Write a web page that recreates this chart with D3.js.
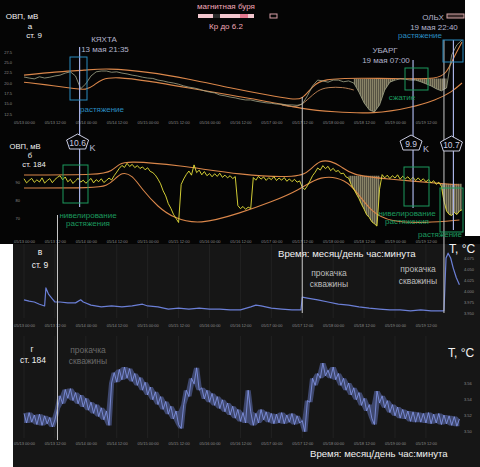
<!DOCTYPE html>
<html>
<head>
<meta charset="utf-8">
<script src="https://cdn.jsdelivr.net/npm/d3@7/dist/d3.min.js"></script>
<style>
  body { margin: 0; background: #000; }
  svg { display: block; font-family: "Liberation Sans", Arial, sans-serif; }
</style>
</head>
<body>
<svg id="chart" width="480" height="467"></svg>
<script>
// all hours are counted from 13 May 00:00
var t0 = new Date(2020, 4, 13, 0, 0);
function at(h) { return new Date(t0.getTime() + h * 3600000); }
var parseT = d3.timeParse("%Y-%m-%d %H:%M");

// --- а : ст. 9, ОВП (мВ), every 2 h
var ovpA = [21.45,21.2,21.0,21.5,21.2,21.4,21.7,21.9,22.4,22.7,21.7,18.6,19.8,21.7,22.7,22.9,22.9,22.6,22.7,22.4,
  22.2,21.9,21.7,21.4,21.2,21.1,20.7,20.5,20.2,20.0,19.7,19.3,19.0,18.8,18.5,18.1,17.8,17.6,17.1,16.9,
  16.6,16.4,16.1,15.9,15.9,15.6,15.4,15.2,15.1,14.9,14.9,14.7,14.7,14.6,14.9,16.9,19.3,20.7,20.5,20.2,
  20.7,20.7,20.3,20.5,20.0,17.8,15.2,13.5,13.0,14.7,18.3,20.2,20.7,21.0,20.9,20.7,20.7,20.3,19.8,19.3,
  18.6,18.1,18.8,26.8,29.2,30.4];
var hoursA = d3.range(0, 172, 2);
var upperA_h = [0,12,24,32,48,64,80,96,104,108,112,116,130,150,160,164,167,170];
var upperA = [21.9,22.7,23.1,23.6,22.7,21.0,18.8,16.9,16.1,15.9,19.3,21.0,21.2,21.0,21.0,22.2,26.5,29.9];
var lowerA_h = [0,12,20,24,27,30,36,48,64,80,96,108,120,136,150,160,166,170];
var lowerA = [20.2,19.3,18.6,18.3,19.3,21.0,21.5,20.5,18.8,17.1,15.4,13.7,13.0,12.5,14.0,15.9,17.8,20.0];
var midA_h = [100,106,110,114,118,124,128];
var midA = [14.7,13.9,15.9,18.3,19.0,19.0,18.3];
var fillA_from = [127, 149], fillA_to = [144, 164], fillA_top = [21.0, 21.1];
var ticksA = [27.5, 25.0, 22.5, 20.0, 17.5, 15.0, 12.5];

// --- б : ст. 184, ОВП (мВ), hourly
var ovpB = [91.8,89.5,90.9,92.0,89.8,91.2,90.0,92.3,89.4,90.8,
  91.9,89.6,91.4,92.6,93.5,91.2,92.8,90.1,91.5,89.2,
  90.7,92.1,89.9,91.0,89.3,90.6,92.0,89.5,91.3,90.2,
  91.8,89.7,90.9,92.2,91.1,93.5,95.5,97.6,99.2,98.1,
  100.4,98.6,99.8,98.0,99.1,97.5,98.4,96.8,97.9,95.9,
  95.2,93.8,91.6,89.0,85.1,82.3,78.0,75.4,72.1,69.8,
  67.5,88.6,91.7,94.2,96.1,93.8,99.5,95.2,96.6,94.0,
  95.8,93.5,94.7,92.9,94.6,93.1,94.9,92.6,93.8,92.3,
  93.5,91.9,93.0,76.9,75.2,76.4,74.8,76.0,75.3,92.5,
  91.0,93.1,91.6,92.8,90.9,92.4,91.3,93.0,90.8,92.2,
  91.0,92.5,90.4,91.7,90.2,91.5,89.9,90.6,87.1,85.8,
  87.9,90.6,93.5,95.4,97.8,96.6,99.1,97.4,98.7,96.3,
  97.6,95.8,96.4,94.6,94.9,92.8,92.2,88.5,86.1,83.4,
  80.8,77.6,74.9,71.8,70.3,67.9,66.8,65.5,86.0,94.1,
  92.3,93.8,91.9,93.5,92.2,94.0,91.6,93.2,91.8,92.9,
  91.2,92.6,90.8,92.3,90.6,91.8,90.1,91.4,89.5,90.7,
  88.7,89.9,87.6,79.4,73.9,72.0,71.4,73.1,71.9,73.8,
  74.6];
var hoursB = d3.range(0, ovpB.length);
var upperB_h = [0,30,34,37,40,60,84,107,111,115,119,123,127,140,169];
var upperB = [93.9,93.9,96.1,100.0,101.7,99.4,93.9,92.2,96.7,102.2,101.7,98.9,93.9,91.7,88.3];
var lowerB_h = [0,28,32,35,38,42,46,52,58,68,84,96,107,115,125,130,135,142,156,169];
var lowerB = [86.7,86.7,87.8,91.1,95.6,93.9,85.6,76.1,70.0,66.1,72.8,78.9,85.6,93.9,91.7,82.8,73.3,67.8,67.2,68.9];
var fillB_from = [126, 160], fillB_to = [138, 170], fillB_top = [93.5, 89.0];
var ticksB = [90, 80, 70];

// --- в : ст. 9, T (°C)
var hoursC = [0,2,4,6,8,8.5,9.5,11,12,14,17,20,22,23,26,30,34,38,42,46,48,52,56,60,64,68,72,76,80,84,
  88,90,92,96,100,104,107.5,108,110,114,118,122,126,130,134,138,142,146,150,154,158,162,163,163.8,164.6,
  165.6,166.6,167.8,169];
var tempC = [3.980,3.977,3.975,3.970,3.966,4.007,3.993,3.982,3.975,3.975,3.973,3.973,3.980,3.975,3.968,
  3.964,3.966,3.964,3.966,3.970,3.966,3.964,3.959,3.961,3.959,3.961,3.959,3.959,3.957,3.957,
  3.964,3.968,3.966,3.961,3.959,3.957,3.957,3.986,3.984,3.980,3.975,3.970,3.968,3.964,3.961,
  3.959,3.957,3.957,3.955,3.957,3.955,3.955,3.955,4.075,4.086,4.075,4.052,4.030,4.014];
var ticksC = [4.075, 4.050, 4.025, 4.000, 3.975, 3.950];

// --- г : ст. 184, T (°C), hourly
var tempD = [3.522,3.510,3.523,3.511,3.520,3.508,3.521,3.507,3.519,3.509,
  3.517,3.505,3.514,3.528,3.544,3.534,3.552,3.541,3.553,3.538,
  3.548,3.534,3.545,3.530,3.541,3.526,3.536,3.522,3.533,3.518,
  3.529,3.514,3.525,3.507,3.560,3.573,3.561,3.577,3.564,3.580,
  3.566,3.578,3.562,3.572,3.557,3.567,3.551,3.561,3.545,3.555,
  3.539,3.549,3.533,3.543,3.527,3.537,3.521,3.531,3.515,3.525,
  3.508,3.503,3.533,3.551,3.543,3.566,3.559,3.579,3.551,3.554,
  3.540,3.551,3.536,3.547,3.532,3.543,3.528,3.539,3.524,3.535,
  3.520,3.531,3.516,3.527,3.512,3.523,3.510,3.551,3.524,3.507,
  3.522,3.510,3.527,3.514,3.524,3.511,3.522,3.509,3.521,3.510,
  3.523,3.509,3.520,3.511,3.522,3.508,3.519,3.510,3.513,3.499,
  3.538,3.536,3.566,3.557,3.572,3.566,3.585,3.569,3.576,3.566,
  3.580,3.564,3.572,3.557,3.566,3.551,3.560,3.545,3.554,3.539,
  3.548,3.532,3.541,3.525,3.533,3.516,3.508,3.550,3.535,3.544,
  3.529,3.538,3.523,3.533,3.519,3.530,3.516,3.527,3.515,3.525,
  3.512,3.524,3.511,3.523,3.511,3.522,3.510,3.523,3.509,3.521,
  3.510,3.522,3.508,3.520,3.509,3.519,3.507,3.518,3.506,3.515];
var hoursD = d3.range(0, tempD.length);
var ticksD = [3.56, 3.54, 3.52, 3.50];

// events
var quakeNames = ["КЯХТА", "УБАРГ", "ОЛЬХ"];
var quakeTimes = ["2020-05-13 21:35", "2020-05-19 07:00", "2020-05-19 22:40"];
var quakeDates = ["13 мая 21:35", "19 мая 07:00", "19 мая 22:40"];
var quakeK = ["10.6", "9.9", "10.7"];
var pumpTimes = ["2020-05-13 13:00", "2020-05-17 12:00", "2020-05-19 19:00"];

var svg = d3.select("#chart");
var x = d3.scaleTime().domain([t0, at(170)]).range([24, 462]);
var yA = d3.scaleLinear().domain([12.5, 27.5]).range([114, 52]);
var yB = d3.scaleLinear().domain([70, 100]).range([218, 164]);
var yC = d3.scaleLinear().domain([3.95, 4.075]).range([313, 258]);
var yD = d3.scaleLinear().domain([3.50, 3.56]).range([431, 383]);
var tickTimes = d3.timeHour.every(12).range(t0, at(157));
var fmt = d3.timeFormat("%m/%d %H:%M");

// backgrounds
svg.append("rect").attr("width", 480).attr("height", 467).attr("fill", "#050505");
svg.append("rect").attr("x", 13).attr("y", 244).attr("width", 467).attr("height", 223).attr("fill", "#161616");

// grid of lower panels
[[244, 318], [336, 438]].forEach(function(r) {
  svg.append("g").selectAll("line").data(tickTimes).enter().append("line")
    .attr("x1", function(d) { return x(d); }).attr("x2", function(d) { return x(d); })
    .attr("y1", r[0]).attr("y2", r[1])
    .attr("stroke", "#2a2a2a").attr("stroke-width", 0.6);
});

function xAxis(yPos) {
  var g = svg.append("g").attr("transform", "translate(0," + yPos + ")")
    .call(d3.axisBottom(x).tickValues(tickTimes).tickFormat(fmt).tickSize(0).tickPadding(2));
  g.select(".domain").remove();
  g.selectAll("text").attr("fill", "#8c8c8c").attr("font-size", 4).attr("font-family", "Liberation Sans, Arial");
}
function yAxis(scale, ticks, f, xPos, right) {
  var ax = right ? d3.axisRight(scale) : d3.axisLeft(scale);
  var g = svg.append("g").attr("transform", "translate(" + xPos + ",0)")
    .call(ax.tickValues(ticks).tickFormat(d3.format(f)).tickSize(0).tickPadding(1));
  g.select(".domain").remove();
  g.selectAll("text").attr("fill", "#8c8c8c").attr("font-size", 4).attr("font-family", "Liberation Sans, Arial");
}
xAxis(119); xAxis(238); xAxis(322); xAxis(440);
yAxis(yA, ticksA, ".1f", 13, false);
yAxis(yB, ticksB, "d", 21, false);
yAxis(yC, ticksC, ".3f", 463, true);
yAxis(yD, ticksD, ".2f", 463, true);

// hatched fill
var defs = svg.append("defs");
var pat = defs.append("pattern").attr("id", "hatch").attr("patternUnits", "userSpaceOnUse")
  .attr("width", 2).attr("height", 4);
pat.append("rect").attr("width", 2).attr("height", 4).attr("fill", "#5a5646");
pat.append("rect").attr("width", 1).attr("height", 4).attr("fill", "#8f8a6c");

function fills(hours, vals, y, from, to, top) {
  from.forEach(function(f, k) {
    var pts = [];
    hours.forEach(function(h, i) { if (h >= f && h <= to[k]) pts.push({ h: h, v: vals[i] }); });
    svg.append("path").datum(pts)
      .attr("d", d3.area().x(function(d) { return x(at(d.h)); })
        .y0(y(top[k])).y1(function(d) { return y(d.v); }))
      .attr("fill", "url(#hatch)").attr("opacity", 0.95);
  });
}
fills(hoursA, ovpA, yA, fillA_from, fillA_to, fillA_top);
fills(hoursB, ovpB, yB, fillB_from, fillB_to, fillB_top);

function series(hours, vals, y, color, w, curve) {
  var pts = hours.map(function(h, i) { return [x(at(h)), y(vals[i])]; });
  svg.append("path").attr("d", d3.line().curve(curve || d3.curveLinear)(pts))
    .attr("fill", "none").attr("stroke", color).attr("stroke-width", w).attr("stroke-linejoin", "round");
}
// band under a noisy record: spread of each sample and its neighbours
function band(hours, vals, y, color, op) {
  var pts = hours.map(function(h, i) {
    var nb = vals.slice(Math.max(0, i - 1), i + 2);
    return { h: h, lo: d3.min(nb), hi: d3.max(nb) };
  });
  svg.append("path").datum(pts)
    .attr("d", d3.area().x(function(d) { return x(at(d.h)); })
      .y0(function(d) { return y(d.lo); }).y1(function(d) { return y(d.hi); }))
    .attr("fill", color).attr("opacity", op);
}
// envelopes
series(upperA_h, upperA, yA, "#d9864a", 1.1, d3.curveBasis);
series(lowerA_h, lowerA, yA, "#d9864a", 1.1, d3.curveBasis);
series(midA_h, midA, yA, "#c98a5a", 0.9, d3.curveBasis);
series(upperB_h, upperB, yB, "#d9864a", 1.1, d3.curveBasis);
series(lowerB_h, lowerB, yB, "#d9864a", 1.1, d3.curveBasis);
// measured
series(hoursA, ovpA, yA, "#a3a78a", 0.8);
series(hoursB, ovpB, yB, "#e8e23a", 0.9);
series(hoursC, tempC, yC, "#6b7fd6", 1.2);
band(hoursD, tempD, yD, "#6f83d6", 0.45);
series(hoursD, tempD, yD, "#8598ea", 0.8);

// pump lines (прокачка скважины)
var pumpSpan = [[215, 440], [97, 313], [40, 313]];
pumpTimes.forEach(function(t, i) {
  var px = x(parseT(t));
  svg.append("line").attr("x1", px).attr("x2", px).attr("y1", pumpSpan[i][0]).attr("y2", pumpSpan[i][1])
    .attr("stroke", "#c8c8c8").attr("stroke-width", 1);
});
// earthquake lines
var quakeSpan = [[47, 207], [60, 208], [40, 230]];
quakeTimes.forEach(function(t, i) {
  var px = x(parseT(t));
  svg.append("line").attr("x1", px).attr("x2", px).attr("y1", quakeSpan[i][0]).attr("y2", quakeSpan[i][1])
    .attr("stroke", "#a9b3e6").attr("stroke-width", 1.2);
});

// boxes
function box(x0, y0, w, h, c) {
  svg.append("rect").attr("x", x0).attr("y", y0).attr("width", w).attr("height", h)
    .attr("fill", "none").attr("stroke", c).attr("stroke-width", 1);
}
var blue = "#2a8cc0", green = "#1c9a5e";
box(70, 57, 17, 43, blue);
box(443, 40, 20, 22, blue);
box(405, 68, 23, 22, green);
box(63, 165, 25, 38, green);
box(404, 167, 25, 39, green);
box(440, 188, 23, 44, green);

// K pentagons
var kY = [142, 143, 144];
quakeTimes.forEach(function(t, i) {
  var cx = x(parseT(t)) - 2, cy = kY[i];
  var p = [[cx, cy - 8], [cx + 11, cy - 2], [cx + 8, cy + 7], [cx - 8, cy + 7], [cx - 11, cy - 2]];
  svg.append("path").attr("d", d3.line()(p) + "Z").attr("fill", "#050505")
    .attr("stroke", "#c9cbe0").attr("stroke-width", 1);
  svg.append("text").attr("x", cx).attr("y", cy + 4).attr("text-anchor", "middle")
    .attr("font-size", 8.5).attr("fill", "#c9cbe0").text(quakeK[i]);
  if (i < 2) svg.append("text").attr("x", cx + 12).attr("y", cy + 9).attr("font-size", 9)
    .attr("fill", "#b9bbd6").text("K");
});

function label(tx, ty, s, size, color, anchor) {
  svg.append("text").attr("x", tx).attr("y", ty).attr("font-size", size).attr("fill", color)
    .attr("text-anchor", anchor || "middle").text(s);
}
// station labels
label(22, 19, "ОВП, мВ", 8, "#f2f2f2"); label(30, 28.5, "а", 8, "#f2f2f2"); label(34, 38, "ст. 9", 8, "#f2f2f2");
label(25, 148.5, "ОВП, мВ", 7.6, "#f2f2f2"); label(30, 157.5, "б", 7.6, "#f2f2f2"); label(34, 166.5, "ст. 184", 7.6, "#f2f2f2");

// earthquake labels
var qPos = [[104, 42], [385, 53], [433, 20]];
quakeNames.forEach(function(n, i) {
  label(qPos[i][0], qPos[i][1], n, 8, "#b3b4cc");
  label(qPos[i][0] + 1, qPos[i][1] + 10, quakeDates[i], 8, "#b3b4cc");
});
label(102, 112, "растяжение", 8, blue);
label(420, 38, "растяжение", 8, blue);
label(402, 100, "сжатие", 8, green);
label(88, 218, "нивелирование", 8, green); label(88, 226, "растяжения", 8, green);
label(407, 216, "нивелирование", 8, green); label(407, 224, "растяжения", 8, green);
label(440, 237, "растяжение", 8, green);

// magnetic storm legend
label(226, 9, "магнитная буря", 8, "#f0a8b8");
svg.append("rect").attr("x", 198).attr("y", 14).attr("width", 56).attr("height", 4).attr("fill", "#f2c6ce");
svg.append("rect").attr("x", 213).attr("y", 14).attr("width", 7).attr("height", 4).attr("fill", "#2a2a2a");
svg.append("rect").attr("x", 240).attr("y", 14).attr("width", 8).attr("height", 4).attr("fill", "#e4788e");
box(270, 14, 7, 4, "#d8a0a8");
label(226, 29, "Кр до 6.2", 8, "#f0a8b8");
svg.append("rect").attr("x", 447).attr("y", 14).attr("width", 17).attr("height", 4)
  .attr("fill", "#3a2a2a").attr("stroke", "#d8a8a8").attr("stroke-width", 1);

// white margins of the collage
svg.append("rect").attr("x", 0).attr("y", 244).attr("width", 13).attr("height", 223).attr("fill", "#ffffff");
svg.append("rect").attr("x", 465).attr("y", 0).attr("width", 15).attr("height", 236).attr("fill", "#ffffff");

// lower panels text
label(40, 255, "в", 8.5, "#f2f2f2"); label(40, 268, "ст. 9", 8.5, "#f2f2f2");
label(32, 352, "г", 8.5, "#f2f2f2"); label(33, 363, "ст. 184", 8.5, "#f2f2f2");
label(329, 276, "прокачка", 8.5, "#bdbdbd"); label(329, 287, "скважины", 8.5, "#bdbdbd");
label(418, 272, "прокачка", 8.5, "#bdbdbd"); label(418, 284, "скважины", 8.5, "#bdbdbd");
label(88, 353, "прокачка", 8.5, "#6a6a6a"); label(88, 364, "скважины", 8.5, "#6a6a6a");
label(278, 257, "Время: месяц/день час:минута", 9.6, "#f2f2f2", "start");
label(310, 457, "Время: месяц/день час:минута", 9.6, "#f2f2f2", "start");
label(449, 253, "T, °C", 12, "#f2f2f2", "start");
label(448, 357, "T, °C", 12, "#f2f2f2", "start");
</script>
</body>
</html>
